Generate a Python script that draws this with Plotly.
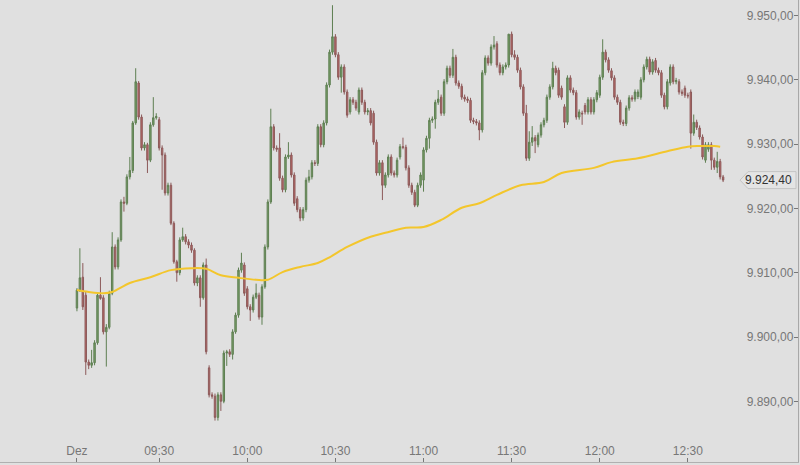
import plotly.graph_objects as go
import pandas as pd

# ---- data (1-minute candles) ----
opens = [
9904.5,9907.3,9909.3,9906.5,9896.1,9895.6,9896.0,9899.1,9906.5,9906.1,
9900.8,9901.5,9906.8,9914.0,9910.9,9915.1,9921.0,9920.8,9924.9,9925.9,
9933.3,9939.5,9934.2,9929.4,9929.9,9927.5,9933.0,9934.1,9933.8,9929.4,
9928.3,9922.4,9923.6,9917.7,9911.7,9910.0,9915.1,9915.6,9914.8,9914.3,
9913.5,9908.4,9909.2,9906.1,9911.2,9895.2,9891.0,9890.8,9887.5,9891.0,
9890.0,9897.5,9897.7,9897.3,9900.8,9903.4,9910.4,9911.2,9907.5,9904.7,
9904.2,9906.2,9906.5,9903.1,9907.8,9914.0,9921.0,9932.7,9929.4,9929.4,
9924.7,9922.9,9928.0,9928.3,9925.2,9921.5,9919.8,9918.5,9919.8,9924.4,
9924.9,9927.1,9927.0,9932.7,9929.9,9933.3,9939.2,9944.3,9946.7,9943.9,
9940.4,9942.0,9938.1,9935.0,9936.9,9936.5,9935.0,9938.4,9936.5,9935.0,
9935.2,9934.8,9930.3,9925.5,9927.1,9923.6,9925.2,9928.0,9925.5,9925.2,
9928.0,9929.6,9929.5,9926.3,9923.6,9922.5,9920.5,9923.6,9924.4,9929.1,
9930.9,9933.7,9933.9,9936.5,9937.3,9934.8,9939.7,9941.8,9940.7,9943.5,
9939.5,9939.0,9937.3,9937.0,9936.8,9933.7,9933.5,9933.3,9932.2,9941.1,
9943.4,9942.6,9945.1,9945.6,9942.3,9941.1,9942.0,9942.3,9947.1,9943.9,
9943.5,9941.5,9938.9,9934.8,9927.8,9930.3,9931.0,9929.9,9931.4,9933.0,
9933.7,9937.3,9938.9,9941.8,9941.5,9938.7,9935.8,9933.4,9940.3,9938.4,
9938.0,9934.2,9934.8,9936.0,9935.0,9936.9,9935.0,9936.9,9937.6,9940.4,
9944.3,9943.1,9941.4,9940.3,9937.3,9936.5,9933.4,9933.2,9935.6,9937.2,
9937.0,9937.4,9937.3,9940.0,9942.0,9943.2,9941.2,9943.0,9941.5,9941.1,
9937.6,9935.8,9939.5,9942.0,9939.7,9939.7,9938.1,9938.7,9937.6,9938.1,
9931.7,9933.4,9932.5,9931.1,9927.5,9929.2,9929.9,9927.5,9926.4,9927.3,
9924.9]
highs = [
9907.6,9913.8,9911.5,9907.0,9896.5,9898.0,9899.5,9906.8,9909.3,9906.5,
9902.0,9907.2,9916.3,9914.4,9915.5,9921.4,9921.8,9925.3,9928.0,9933.6,
9941.8,9939.8,9934.6,9930.3,9930.2,9933.4,9937.3,9934.8,9934.2,9929.8,
9928.7,9924.0,9924.0,9918.0,9912.0,9915.5,9917.0,9916.0,9915.2,9914.7,
9913.8,9909.6,9909.6,9911.6,9912.2,9895.6,9891.4,9891.2,9891.4,9891.4,
9897.9,9898.0,9898.1,9901.2,9903.8,9910.8,9913.1,9911.6,9907.9,9905.1,
9906.6,9908.3,9906.9,9908.2,9914.4,9921.4,9935.5,9933.1,9929.8,9931.7,
9925.1,9928.4,9930.3,9928.7,9925.6,9921.9,9920.2,9920.2,9924.8,9926.0,
9927.5,9927.5,9933.1,9933.1,9933.7,9939.6,9944.7,9951.6,9947.1,9944.3,
9942.4,9942.4,9938.5,9937.3,9937.3,9936.9,9938.8,9938.8,9936.9,9935.6,
9935.6,9935.2,9930.7,9927.5,9927.5,9925.6,9928.4,9928.4,9925.9,9927.9,
9930.0,9931.0,9929.9,9926.7,9924.0,9922.9,9924.0,9925.6,9929.5,9931.3,
9934.1,9934.3,9936.9,9938.4,9937.7,9940.1,9942.2,9942.2,9944.8,9943.9,
9939.9,9939.4,9937.7,9937.4,9937.2,9934.1,9933.9,9933.7,9941.5,9943.8,
9943.8,9945.5,9946.8,9946.0,9942.7,9942.4,9942.7,9947.1,9947.5,9944.6,
9943.9,9941.9,9939.3,9936.1,9932.0,9932.8,9931.4,9931.8,9933.4,9934.1,
9937.7,9939.3,9942.8,9942.2,9941.9,9939.1,9936.2,9940.7,9940.7,9938.8,
9938.4,9935.4,9935.2,9936.4,9937.3,9937.3,9937.3,9938.4,9940.8,9946.3,
9944.7,9943.5,9941.8,9940.7,9937.7,9936.9,9933.8,9936.0,9937.6,9937.6,
9938.5,9938.5,9940.4,9942.4,9943.6,9943.6,9943.2,9943.4,9941.9,9941.5,
9938.0,9940.1,9942.4,9942.4,9940.3,9940.1,9938.5,9939.1,9938.0,9938.5,
9934.6,9933.8,9932.9,9931.5,9930.3,9930.3,9930.3,9927.9,9928.8,9927.7,
9925.2]
lows = [
9904.0,9907.0,9904.2,9894.1,9895.0,9895.2,9895.6,9898.8,9905.8,9900.4,
9895.4,9901.2,9906.5,9910.5,9910.5,9914.8,9919.5,9920.5,9924.5,9925.5,
9933.0,9933.8,9929.0,9929.0,9925.5,9927.2,9932.7,9933.8,9929.0,9922.9,
9922.0,9922.0,9917.4,9911.4,9908.6,9909.6,9914.8,9914.4,9913.8,9913.1,
9908.0,9907.9,9904.7,9905.8,9897.3,9890.6,9890.4,9887.0,9887.0,9888.5,
9889.7,9895.5,9896.9,9896.5,9900.5,9903.0,9910.0,9906.4,9904.3,9902.5,
9903.8,9905.9,9902.7,9901.9,9907.5,9913.6,9920.7,9929.0,9928.8,9924.3,
9922.5,9922.5,9927.7,9924.8,9920.4,9919.4,9918.0,9918.1,9919.4,9924.0,
9924.5,9926.6,9926.6,9929.5,9929.5,9932.9,9938.8,9943.9,9943.5,9940.0,
9938.0,9937.7,9934.1,9934.6,9936.1,9935.2,9934.6,9936.1,9934.6,9934.5,
9932.9,9929.9,9925.1,9925.1,9921.3,9923.2,9924.8,9925.1,9924.8,9924.8,
9927.6,9929.2,9925.9,9923.2,9922.1,9920.2,9920.2,9923.2,9922.6,9928.7,
9929.3,9933.3,9932.4,9936.1,9934.4,9934.4,9939.3,9940.3,9940.3,9939.1,
9938.6,9936.9,9936.6,9936.4,9933.3,9933.1,9932.9,9930.6,9931.8,9940.7,
9942.2,9942.2,9944.7,9941.9,9940.7,9940.7,9941.6,9941.9,9943.5,9943.1,
9941.1,9938.5,9934.4,9927.4,9927.4,9929.7,9928.6,9929.5,9931.0,9932.6,
9933.3,9936.9,9938.5,9940.7,9937.2,9936.9,9932.5,9933.0,9938.0,9937.6,
9933.8,9933.8,9933.0,9934.6,9934.6,9934.6,9934.6,9936.5,9937.2,9940.0,
9942.7,9941.1,9939.9,9936.9,9936.1,9933.0,9932.8,9932.8,9935.2,9936.6,
9936.6,9937.0,9936.9,9939.6,9941.6,9940.8,9940.8,9941.1,9940.7,9937.2,
9935.4,9935.4,9939.1,9939.3,9939.3,9937.7,9937.5,9937.2,9937.1,9929.3,
9931.3,9932.2,9930.7,9927.6,9927.1,9928.8,9926.0,9926.0,9925.5,9924.5,
9924.1]
closes = [
9907.3,9909.2,9904.7,9896.1,9895.6,9896.0,9899.1,9906.5,9906.0,9900.8,
9901.5,9906.8,9914.0,9910.9,9915.1,9921.0,9920.8,9924.9,9925.9,9933.3,
9939.7,9934.2,9929.4,9929.9,9927.5,9933.0,9934.1,9934.3,9929.4,9928.3,
9922.4,9923.6,9917.7,9911.7,9910.0,9915.1,9915.6,9914.8,9914.3,9913.5,
9908.4,9909.2,9906.1,9911.2,9897.7,9891.0,9890.8,9887.5,9891.0,9890.0,
9897.5,9897.7,9897.3,9900.8,9903.4,9910.4,9911.5,9906.8,9904.7,9904.2,
9906.2,9906.8,9903.1,9907.8,9914.0,9921.0,9932.7,9929.4,9929.2,9924.7,
9922.9,9928.0,9928.3,9925.2,9920.8,9919.8,9918.5,9919.8,9924.4,9924.9,
9927.1,9927.0,9932.7,9929.9,9933.3,9939.2,9944.3,9946.7,9943.9,9940.4,
9942.0,9938.1,9934.5,9936.9,9936.5,9935.6,9938.4,9936.5,9935.0,9935.2,
9933.3,9930.3,9925.5,9927.1,9923.6,9925.2,9928.0,9925.5,9925.2,9927.5,
9929.6,9929.5,9926.3,9923.6,9922.5,9920.5,9923.6,9925.2,9929.1,9930.9,
9933.7,9933.9,9936.5,9937.0,9934.8,9939.7,9941.8,9940.7,9943.5,9939.5,
9939.0,9937.3,9937.0,9936.8,9933.7,9933.5,9933.3,9932.2,9941.1,9943.4,
9942.6,9945.1,9945.4,9942.3,9941.1,9942.0,9942.3,9947.1,9943.9,9943.5,
9941.5,9938.9,9934.8,9927.8,9930.3,9931.0,9930.5,9931.4,9933.0,9933.7,
9937.3,9938.9,9941.8,9941.1,9937.6,9937.3,9933.4,9940.3,9938.4,9938.0,
9934.2,9935.0,9934.7,9935.0,9936.9,9935.0,9936.9,9938.0,9940.4,9944.3,
9943.1,9941.5,9940.3,9937.3,9936.5,9933.4,9933.2,9935.6,9937.2,9937.0,
9938.1,9938.1,9940.0,9942.0,9943.2,9941.2,9942.8,9941.5,9941.1,9937.6,
9935.8,9939.7,9942.0,9939.7,9939.9,9938.1,9937.9,9937.6,9937.5,9931.7,
9933.4,9932.6,9931.1,9928.0,9929.9,9929.9,9927.5,9926.4,9927.3,9924.9,
9924.4]

session_date = "2014-12-04"
first_bar = "09:02"

# moving average (read at sample times)
ma_times = ["09:02","09:06","09:11","09:14","09:20","09:27","09:34","09:41","09:46",
            "09:51","09:57","10:03","10:07","10:12","10:18","10:24","10:28","10:34",
            "10:42","10:47","10:54","11:00","11:06","11:13","11:19","11:25","11:33",
            "11:41","11:47","11:58","12:04","12:13","12:23","12:30","12:34","12:39","12:41"]
ma_values = [9907.3,9907.0,9906.8,9907.0,9908.4,9909.3,9910.4,9910.7,9910.6,
             9909.6,9909.2,9908.9,9908.9,9910.1,9910.9,9911.5,9912.4,9914.0,
             9915.6,9916.2,9917.0,9917.1,9918.2,9920.1,9920.8,9922.1,9923.6,
             9924.1,9925.5,9926.3,9927.2,9927.8,9928.9,9929.6,9929.7,9929.7,9929.6]

tick_times = ["09:02","09:30","10:00","10:30","11:00","11:30","12:00","12:30"]
tick_labels = ["Dez","09:30","10:00","10:30","11:00","11:30","12:00","12:30"]
y_ticks = [9890, 9900, 9910, 9920, 9930, 9940, 9950]

# ---- build ----
def de_fmt(v):
    s = f"{v:,.2f}"
    return s.replace(",", "X").replace(".", ",").replace("X", ".")

times = pd.date_range(f"{session_date} {first_bar}", periods=len(closes), freq="min")
ma_x = pd.to_datetime([f"{session_date} {t}" for t in ma_times])
tick_x = pd.to_datetime([f"{session_date} {t}" for t in tick_times])

BG = "#e0e0e0"
FONT = "Arial, Liberation Sans, sans-serif"

fig = go.Figure()
fig.add_trace(go.Candlestick(
    x=times, open=opens, high=highs, low=lows, close=closes,
    increasing=dict(line=dict(color="#5e7f52", width=1), fillcolor="#7aa068"),
    decreasing=dict(line=dict(color="#8c5a5a", width=1), fillcolor="#bb6764"),
    whiskerwidth=0, showlegend=False, hoverinfo="skip",
))
fig.add_trace(go.Scatter(
    x=ma_x, y=ma_values, mode="lines",
    line=dict(color="#f3c62c", width=2, shape="spline", smoothing=1.0),
    showlegend=False, hoverinfo="skip",
))

t0 = pd.Timestamp(f"{session_date} {first_bar}")
x_lo = t0 - pd.Timedelta(seconds=1572)
x_hi = t0 + pd.Timedelta(seconds=14730)
y_lo, y_hi = 9880.56, 9952.41

W, H = 800, 465
mr, mb = 2, 3
plot_w, plot_h = W - mr, H - mb
last = closes[-1]
px_per_unit = plot_h / (y_hi - y_lo)
half = 8.5 / px_per_unit

fig.update_layout(
    width=W, height=H,
    margin=dict(l=0, r=mr, t=0, b=mb),
    paper_bgcolor=BG, plot_bgcolor=BG,
    font=dict(family=FONT, size=12, color="#777777"),
    xaxis=dict(
        type="date", range=[x_lo, x_hi], rangeslider=dict(visible=False),
        tickmode="array", tickvals=tick_x, ticktext=tick_labels,
        ticks="inside", ticklen=4, tickcolor="#777777",
        ticklabelposition="inside", showgrid=False, zeroline=False,
        showline=True, linecolor="#b0b0b0", linewidth=1,
        tickfont=dict(size=12, color="#777777", family=FONT),
    ),
    yaxis=dict(
        side="right", range=[y_lo, y_hi],
        tickmode="array", tickvals=y_ticks, ticktext=[de_fmt(v) for v in y_ticks],
        ticks="inside", ticklen=4, tickcolor="#777777",
        ticklabelposition="inside", showgrid=False, zeroline=False,
        showline=True, linecolor="#a8a8a8", linewidth=1,
        tickfont=dict(size=12, color="#777777", family=FONT),
    ),
)

# last-price tag
tip = 740 / plot_w
base = 748 / plot_w
fig.add_shape(type="path", xref="paper", yref="y",
              path=f"M {tip},{last} L {base},{last+half} L {0.9975},{last+half} "
                   f"L {0.9975},{last-half} L {base},{last-half} Z",
              fillcolor="#e4e4e4", line=dict(color="#c4c4c4", width=1))
fig.add_annotation(xref="paper", yref="y", x=0.9955, y=last, xanchor="right",
                   yanchor="middle", text=de_fmt(last), showarrow=False,
                   font=dict(size=12, color="#333333", family=FONT))

fig.write_html("out.html", config={"displayModeBar": False},
               post_script="document.body.style.margin='0';document.body.style.background='#e0e0e0';")
